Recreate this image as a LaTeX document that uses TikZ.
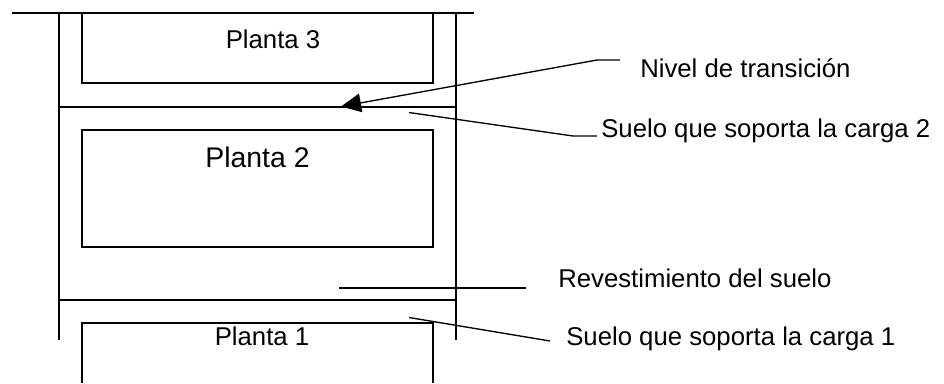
\documentclass[tikz,border=0pt]{standalone}
\usepackage{fontspec}
\setmainfont{Liberation Sans}
\usetikzlibrary{arrows.meta}
\tikzset{
  wall/.style={line width=1.2pt},
  leader/.style={line width=1pt},
  lbl/.style={inner sep=0.75pt,font=\fontsize{19.3}{22}\selectfont,anchor=west},
  plantalbl/.style={inner sep=0.75pt,font=\fontsize{19.3}{22}\selectfont}
}
\begin{document}
\begin{tikzpicture}[x=0.75pt,y=0.75pt,yscale=-1,xscale=1]
\useasboundingbox (0,0) rectangle (944,383);

% Walls and floors
\draw [wall] (12,13) -- (474,13);
\draw [wall] (59,13) -- (59,340);
\draw [wall] (456,13) -- (456,340);
\draw [wall] (59,107) -- (456,107);
\draw [wall] (59,300) -- (456,300);

% Rooms
\draw [wall] (82,13) -- (82,83) -- (433,83) -- (433,13);
\draw [wall] (82,130) rectangle (433,247);
\draw [wall] (82,383) -- (82,323) -- (433,323) -- (433,383);

% Text Node
\node (p3) [plantalbl] at (273,39) {Planta 3};
\node (p2) [plantalbl,font=\fontsize{21.3}{24}\selectfont] at (257.5,157) {Planta 2};
\node (p1) [plantalbl] at (262,336.5) {Planta 1};
\node (nivel) [lbl] at (639,68) {Nivel de transición};
\node (suelo2) [lbl] at (600,130.5) {Suelo que soporta la carga 2};
\node (rev) [lbl] at (557,278) {Revestimiento del suelo};
\node (suelo1) [lbl] at (565,339) {Suelo que soporta la carga 1};

% Leaders
\coordinate (a1) at (620,60);
\coordinate (a2) at (597,60);
\coordinate (a3) at (341,106.5);
\draw [leader,-{Triangle[length=15pt,width=14pt]}] (a1) -- (a2) -- (a3);
\coordinate (b1) at (597,136);
\coordinate (b2) at (573,136);
\coordinate (b3) at (409,112.5);
\draw [leader] (b1) -- (b2) -- (b3);
\coordinate (c1) at (526,288);
\coordinate (c2) at (339,288);
\draw [leader] (c1) -- (c2);
\coordinate (d1) at (550,341);
\coordinate (d3) at (409,317.5);
\draw [leader] (d1) -- (d3);

\end{tikzpicture}
\end{document}
